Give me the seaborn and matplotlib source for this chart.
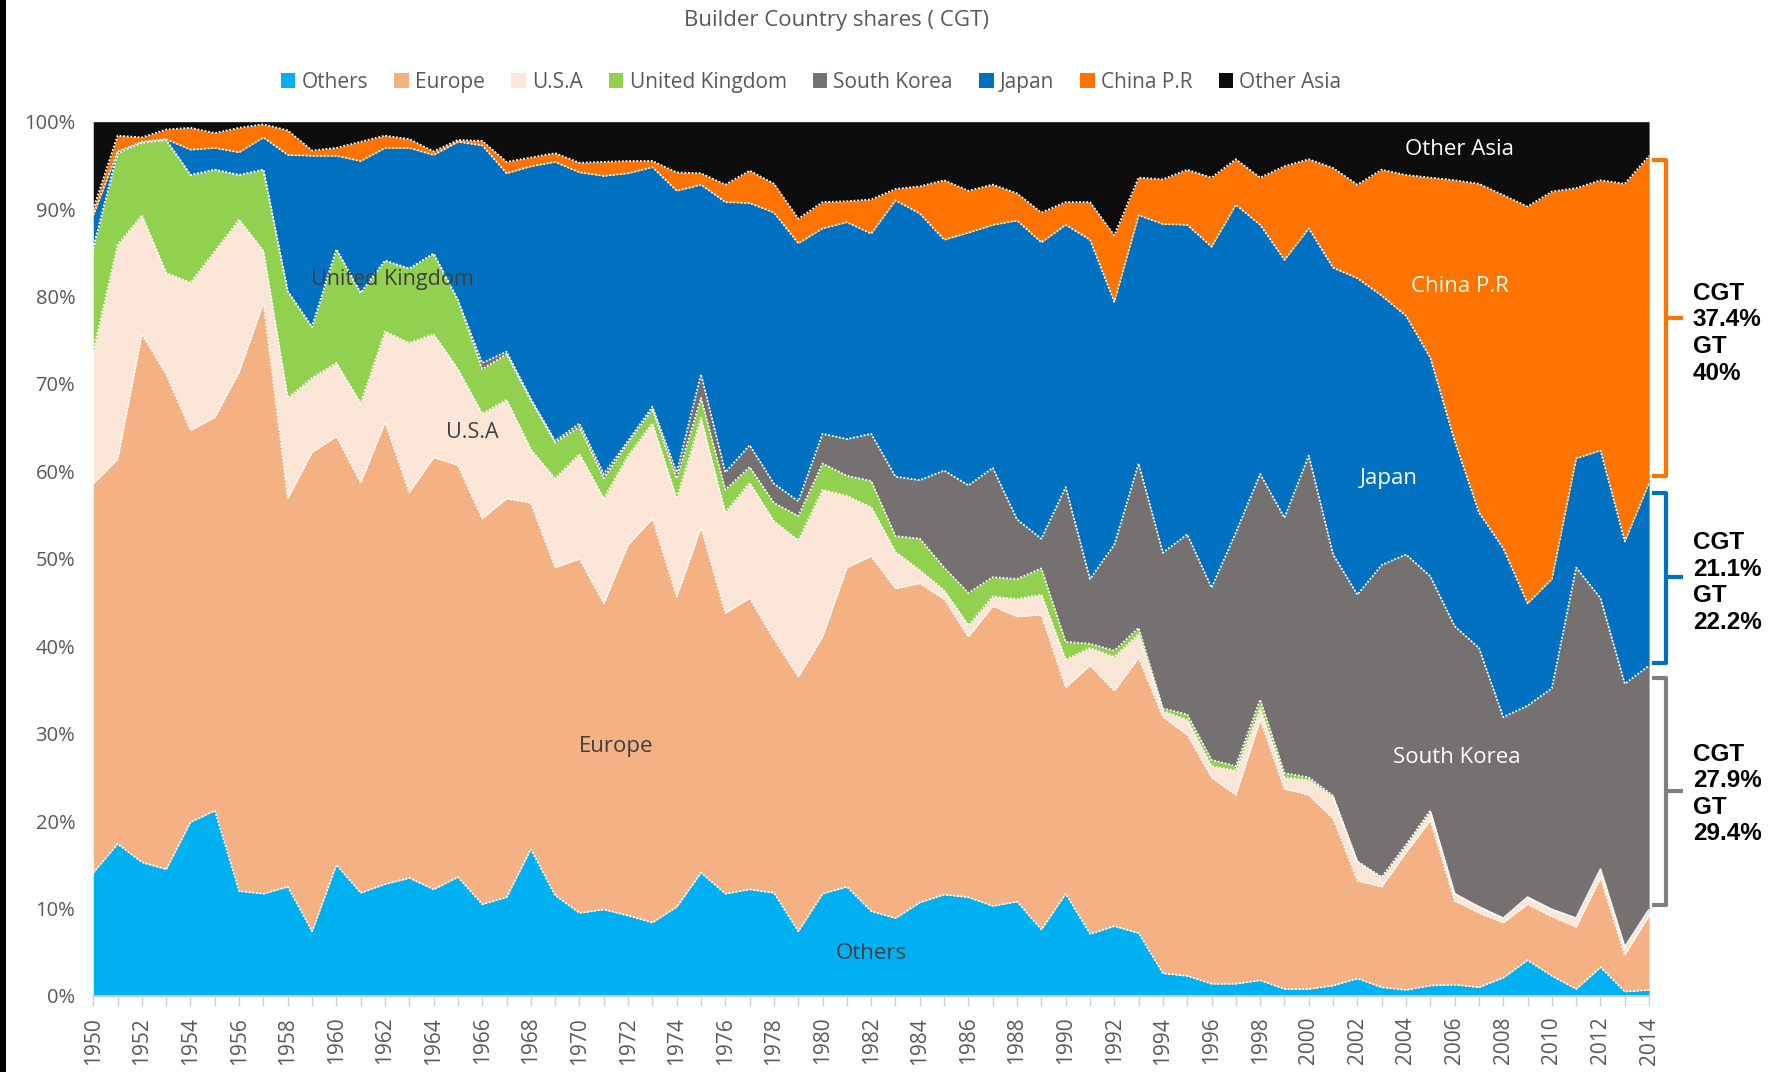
import matplotlib
matplotlib.use("Agg")
import matplotlib.pyplot as plt
import matplotlib.ticker as mticker
from matplotlib.patches import Rectangle
import pandas as pd
import seaborn as sns

# Share of world output by builder country (% of CGT)
years = list(range(1950, 2015))

others = [14.1, 17.4, 15.3, 14.5, 19.9, 21.2, 12.0, 11.7, 12.5, 7.4,
          15.0, 11.8, 12.8, 13.5, 12.2, 13.6, 10.5, 11.3, 16.8, 11.5,
          9.5, 9.9, 9.2, 8.4, 10.2, 14.1, 11.7, 12.2, 11.8, 7.4,
          11.7, 12.5, 9.7, 8.9, 10.7, 11.6, 11.3, 10.3, 10.8, 7.6,
          11.7, 7.1, 8.0, 7.2, 2.6, 2.3, 1.4, 1.4, 1.8, 0.8,
          0.8, 1.2, 2.0, 1.0, 0.7, 1.2, 1.3, 1.0, 2.1, 4.1,
          2.3, 0.8, 3.3, 0.5, 0.7]
europe = [44.5, 44.0, 60.4, 56.6, 44.8, 45.0, 59.4, 67.6, 44.4, 54.8,
          49.0, 46.9, 52.8, 44.1, 49.4, 47.1, 44.1, 45.6, 39.6, 37.5,
          40.5, 35.0, 42.4, 46.2, 35.5, 39.5, 32.1, 33.3, 29.0, 29.1,
          29.4, 36.5, 40.6, 37.7, 36.5, 33.8, 29.8, 34.3, 32.6, 36.0,
          23.6, 30.7, 26.9, 31.5, 29.3, 27.6, 23.6, 21.6, 29.8, 22.9,
          22.2, 19.1, 11.2, 11.5, 15.7, 18.9, 9.6, 8.5, 6.3, 6.4,
          6.8, 7.1, 10.2, 4.2, 8.5]
usa = [15.1, 24.5, 13.6, 11.6, 16.9, 19.0, 17.4, 5.9, 11.5, 8.5,
       8.4, 9.1, 10.4, 17.1, 14.1, 11.0, 12.0, 11.3, 6.1, 10.2,
       12.0, 12.0, 10.2, 10.9, 11.2, 12.5, 11.5, 13.2, 13.5, 15.6,
       16.8, 8.2, 5.6, 4.2, 1.5, 1.0, 1.3, 1.1, 2.0, 2.3,
       3.2, 2.0, 3.9, 2.7, 0.7, 1.7, 1.3, 2.8, 1.3, 1.3,
       1.7, 2.4, 2.1, 1.0, 0.8, 1.0, 0.8, 0.7, 0.5, 0.8,
       0.8, 1.0, 1.0, 0.9, 0.7]
uk = [11.8, 10.5, 8.3, 15.2, 12.3, 9.3, 5.1, 9.3, 12.2, 5.8,
      13.0, 12.6, 8.1, 8.5, 9.2, 7.9, 5.1, 5.2, 5.6, 4.1,
      3.1, 2.3, 1.5, 1.6, 2.3, 2.3, 2.6, 1.8, 2.1, 2.8,
      3.0, 2.3, 3.0, 1.8, 3.6, 2.6, 3.7, 2.2, 2.3, 3.0,
      2.0, 0.5, 0.7, 0.7, 0.3, 0.6, 0.7, 0.5, 1.0, 0.5,
      0.3, 0.2, 0.1, 0.1, 0.1, 0.1, 0.0, 0.0, 0.0, 0.0,
      0.0, 0.0, 0.0, 0.0, 0.0]
south_korea = [0, 0, 0, 0, 0, 0, 0, 0, 0, 0,
               0, 0, 0, 0, 0, 0, 0.7, 0.3, 0.2, 0.2,
               0.4, 0.5, 0.2, 0.3, 0.7, 2.7, 2.0, 2.5, 2.2, 1.7,
               3.4, 4.2, 5.4, 6.8, 6.7, 11.1, 12.3, 12.5, 6.8, 3.4,
               17.7, 7.4, 12.1, 18.8, 17.8, 20.6, 19.7, 26.7, 25.8, 29.2,
               36.8, 27.6, 30.5, 35.7, 33.2, 26.8, 30.6, 29.6, 23.0, 21.9,
               25.3, 40.1, 31.0, 30.1, 27.9]
japan = [3.8, 0.2, 0.1, 0.1, 2.9, 2.5, 2.6, 3.7, 15.6, 19.6,
         10.7, 15.1, 12.9, 13.8, 11.3, 18.1, 24.9, 20.4, 26.6, 31.9,
         28.7, 34.1, 30.6, 27.4, 32.2, 21.7, 30.9, 27.7, 31.0, 29.5,
         23.5, 24.8, 22.9, 31.6, 30.5, 26.4, 28.9, 27.8, 34.2, 33.9,
         30.0, 38.8, 27.8, 28.4, 37.6, 35.4, 39.0, 37.5, 28.5, 29.5,
         26.0, 32.8, 36.2, 30.8, 27.3, 25.0, 21.2, 15.5, 19.3, 11.7,
         12.5, 12.5, 16.9, 16.3, 20.9]
china = [0.7, 1.8, 0.5, 1.1, 2.5, 1.7, 2.8, 1.5, 2.8, 0.6,
         0.9, 2.2, 1.4, 1.0, 0.4, 0.2, 0.5, 1.3, 1.0, 1.0,
         1.1, 1.6, 1.4, 0.7, 2.1, 1.3, 2.0, 3.7, 3.3, 2.8,
         3.0, 2.4, 3.9, 1.3, 3.1, 6.8, 4.8, 4.6, 3.1, 3.4,
         2.6, 4.3, 7.6, 4.3, 5.1, 6.3, 7.9, 5.2, 5.4, 10.7,
         7.9, 11.4, 10.7, 14.4, 16.1, 20.6, 29.8, 37.6, 40.4, 45.4,
         44.3, 30.9, 30.9, 40.9, 37.4]
other_asia = [10.0, 1.6, 1.8, 0.9, 0.7, 1.3, 0.7, 0.3, 1.0, 3.3,
              3.0, 2.3, 1.6, 2.0, 3.4, 2.1, 2.2, 4.6, 4.1, 3.6,
              4.7, 4.6, 4.5, 4.5, 5.8, 5.9, 7.2, 5.6, 7.1, 11.1,
              9.2, 9.1, 8.9, 7.7, 7.4, 6.7, 7.9, 7.2, 8.2, 10.4,
              9.2, 9.2, 13.0, 6.4, 6.6, 5.5, 6.4, 4.3, 6.4, 5.1,
              4.3, 5.3, 7.2, 5.5, 6.1, 6.4, 6.7, 7.1, 8.4, 9.7,
              8.0, 7.6, 6.7, 7.1, 3.9]

names = ['Others', 'Europe', 'U.S.A', 'United Kingdom', 'South Korea',
         'Japan', 'China P.R', 'Other Asia']
colors = ['#00B0F0', '#F4B183', '#FBE5D6', '#92D050', '#767171',
          '#0070C0', '#FF7300', '#0D0D0D']

df = pd.DataFrame({'Others': others, 'Europe': europe, 'U.S.A': usa,
                   'United Kingdom': uk, 'South Korea': south_korea,
                   'Japan': japan, 'China P.R': china,
                   'Other Asia': other_asia}, index=years)
# shares: make every year add up to 100%
df = df.div(df.sum(axis=1), axis=0) * 100

sns.set_theme(style='white')
plt.rcParams['font.family'] = ['Open Sans', 'DejaVu Sans']
grey = '#595959'

fig = plt.figure(figsize=(17.83, 10.72), dpi=100)
ax = fig.add_axes([0.0523, 0.0709, 0.8726, 0.8156])

ax.stackplot(df.index, df[names].T.values, colors=colors, labels=names, linewidth=0)
cum = df[names].cumsum(axis=1)
for col in names[:-1]:
    ax.plot(df.index, cum[col], color='white', lw=1.3, ls=(0, (1, 1)))

ax.set_xlim(1950, 2014)
ax.set_ylim(0, 100)

# axes and ticks
ax.xaxis.set_major_locator(mticker.MultipleLocator(2))
ax.xaxis.set_minor_locator(mticker.MultipleLocator(1))
ax.yaxis.set_major_locator(mticker.MultipleLocator(10))
ax.yaxis.set_major_formatter(mticker.FuncFormatter(lambda v, p: f'{v:.0f}%'))
ax.tick_params(axis='x', which='both', bottom=True, length=7, width=1,
               color='#D0D0D0', direction='out', labelrotation=90,
               labelsize=15, labelcolor=grey, pad=8)
ax.tick_params(axis='y', length=0, labelsize=14.5, labelcolor=grey, pad=13)
for s in ['top', 'right', 'left']:
    ax.spines[s].set_visible(False)
ax.spines['bottom'].set_color('#D0D0D0')
ax.grid(False)

# legend and title
handles, labels = ax.get_legend_handles_labels()
fig.legend(handles, labels, loc='center', bbox_to_anchor=(0.455, 0.9235),
           ncol=8, frameon=False, fontsize=15, labelcolor=grey,
           handlelength=0.7, handleheight=0.7, handletextpad=0.3,
           columnspacing=1.25)
fig.text(0.469, 0.981, 'Builder Country shares ( CGT)', ha='center',
         va='center', fontsize=16, color=grey)

# area labels
dark = '#404040'
ax.text(1962.3, 81.9, 'United Kingdom', ha='center', va='center', fontsize=15.5, color=dark)
ax.text(1965.6, 64.5, 'U.S.A', ha='center', va='center', fontsize=15.5, color=dark)
ax.text(1971.5, 28.5, 'Europe', ha='center', va='center', fontsize=16, color=dark)
ax.text(1982.0, 4.9, 'Others', ha='center', va='center', fontsize=16, color=dark)
ax.text(2003.3, 59.2, 'Japan', ha='center', va='center', fontsize=16, color='white')
ax.text(2006.1, 27.3, 'South Korea', ha='center', va='center', fontsize=16, color='white')
ax.text(2006.2, 81.1, 'China P.R', ha='center', va='center', fontsize=16, color='white')
ax.text(2006.2, 96.8, 'Other Asia', ha='center', va='center', fontsize=16, color='white')

# brackets with the 2014 shares on the right
brackets = [
    (95.6, 59.5, 77.6, '#FF7300', 'CGT\n37.4%\nGT\n40%', 75.8),
    (57.5, 38.1, 47.9, '#0070C0', 'CGT\n21.1%\nGT\n22.2%', 47.3),
    (36.4, 10.4, 23.5, '#7F7F7F', 'CGT\n27.9%\nGT\n29.4%', 23.1),
]
for top, bot, mid, col, txt, ty in brackets:
    ax.plot([2014.1, 2014.7, 2014.7, 2014.1], [top, top, bot, bot], color=col,
            lw=3, clip_on=False, solid_joinstyle='round', solid_capstyle='butt')
    ax.plot([2014.7, 2015.4], [mid, mid], color=col, lw=3, clip_on=False,
            solid_capstyle='butt')
    ax.text(2015.8, ty, txt, ha='left', va='center', fontsize=17.5,
            fontweight='bold', color='black', linespacing=1.2,
            family='Liberation Sans')

# black strip on the left edge of the slide
fig.patches.append(Rectangle((0, 0), 6 / 1783, 1, transform=fig.transFigure,
                             facecolor='black', edgecolor='black', lw=0,
                             zorder=100, figure=fig))

fig.savefig('out.png', dpi=100, facecolor='white')
